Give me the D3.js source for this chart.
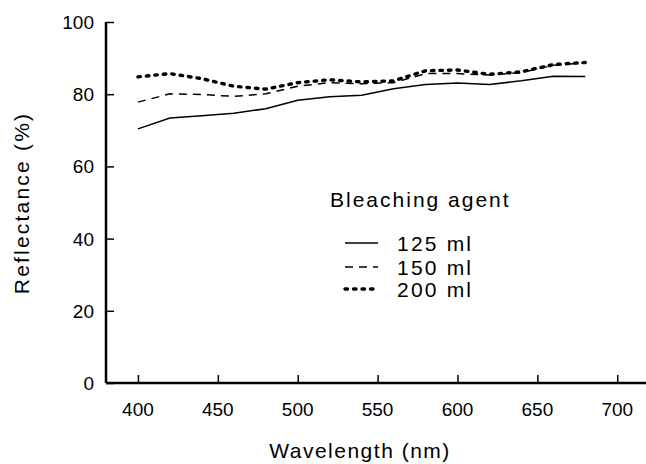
<!DOCTYPE html>
<html>
<head>
<meta charset="utf-8">
<script src="https://cdn.jsdelivr.net/npm/d3@7"></script>
<style>
  body { margin: 0; background: #fff; }
  text { font-family: "Liberation Sans", Arial, sans-serif; fill: #000; }
</style>
</head>
<body>
<div id="chart"></div>
<script>
// wavelength (nm) and reflectance (%) per bleaching agent dose
const wavelengths = [400, 420, 440, 460, 480, 500, 520, 540, 560, 580, 600, 620, 640, 660, 680];
const ml125 = [70.4, 73.4, 74.0, 74.7, 76.0, 78.3, 79.3, 79.7, 81.5, 82.7, 83.1, 82.7, 83.7, 85.0, 84.9];
const ml150 = [77.8, 80.1, 79.9, 79.4, 80.1, 82.2, 83.2, 82.9, 83.2, 85.7, 85.7, 85.3, 86.0, 88.0, 88.7];
const ml200 = [84.8, 85.7, 84.3, 82.2, 81.4, 83.2, 84.0, 83.4, 83.7, 86.5, 86.7, 85.5, 86.2, 88.2, 88.8];
const xTicks = [400, 450, 500, 550, 600, 650, 700];
const yTicks = [0, 20, 40, 60, 80, 100];
const legendTitle = "Bleaching agent";
const seriesNames = ["125 ml", "150 ml", "200 ml"];

const width = 646, height = 464;

const svg = d3.select("#chart").append("svg")
  .attr("width", width)
  .attr("height", height);

const x = d3.scaleLinear().domain([380, 718]).range([106, 646]);
const y = d3.scaleLinear().domain([0, 100]).range([383, 22]);

const styles = [
  { w: 1.5, dash: null, cap: "butt" },
  { w: 1.5, dash: "8,6", cap: "butt" },
  { w: 3.4, dash: "2.5,6", cap: "round" }
];

// axes (ticks point inward)
const xAxis = svg.append("g")
  .attr("transform", `translate(0,${y(0)})`)
  .call(d3.axisTop(x).tickValues(xTicks).tickSize(8).tickFormat(""));
xAxis.select(".domain").attr("d", `M${x.range()[0]},0H${x.range()[1]}`);

const yAxis = svg.append("g")
  .attr("transform", `translate(${x.range()[0]},0)`)
  .call(d3.axisRight(y).tickValues(yTicks).tickSize(8).tickFormat(""));
yAxis.select(".domain").attr("d", `M0,${y.range()[0]}V${y.range()[1]}`);

svg.selectAll(".domain").attr("stroke", "#000").attr("stroke-width", 2.5);
svg.selectAll(".tick line").attr("stroke", "#000").attr("stroke-width", 1.5);

svg.append("g").selectAll("text")
  .data(xTicks)
  .join("text")
  .attr("x", d => x(d))
  .attr("y", 416)
  .attr("text-anchor", "middle")
  .attr("font-size", 19)
  .text(d => d);

svg.append("g").selectAll("text")
  .data(yTicks)
  .join("text")
  .attr("x", 94)
  .attr("y", d => y(d) + 7)
  .attr("text-anchor", "end")
  .attr("font-size", 19)
  .text(d => d);

svg.append("text")
  .attr("x", 360)
  .attr("y", 458)
  .attr("text-anchor", "middle")
  .attr("font-size", 21)
  .attr("letter-spacing", 1.5)
  .text("Wavelength (nm)");

svg.append("text")
  .attr("transform", `translate(29,203) rotate(-90)`)
  .attr("text-anchor", "middle")
  .attr("font-size", 21)
  .attr("letter-spacing", 2.2)
  .text("Reflectance (%)");

// lines
const line = d3.line()
  .x((d, i) => x(wavelengths[i]))
  .y(d => y(d));

[ml125, ml150, ml200].forEach((vals, k) => {
  svg.append("path")
    .datum(vals)
    .attr("fill", "none")
    .attr("stroke", "#000")
    .attr("stroke-width", styles[k].w)
    .attr("stroke-dasharray", styles[k].dash)
    .attr("stroke-linecap", styles[k].cap)
    .attr("d", line);
});

// legend
svg.append("text")
  .attr("x", 330)
  .attr("y", 207)
  .attr("font-size", 21)
  .attr("letter-spacing", 2)
  .text(legendTitle);

const legendY = [243, 267, 289];
seriesNames.forEach((name, k) => {
  svg.append("line")
    .attr("x1", 345).attr("x2", 378)
    .attr("y1", legendY[k]).attr("y2", legendY[k])
    .attr("stroke", "#000")
    .attr("stroke-width", styles[k].w)
    .attr("stroke-dasharray", styles[k].dash)
    .attr("stroke-linecap", styles[k].cap);
  svg.append("text")
    .attr("x", 397)
    .attr("y", legendY[k] + 7.5)
    .attr("font-size", 21)
    .attr("letter-spacing", 2.2)
    .text(name);
});
</script>
</body>
</html>
